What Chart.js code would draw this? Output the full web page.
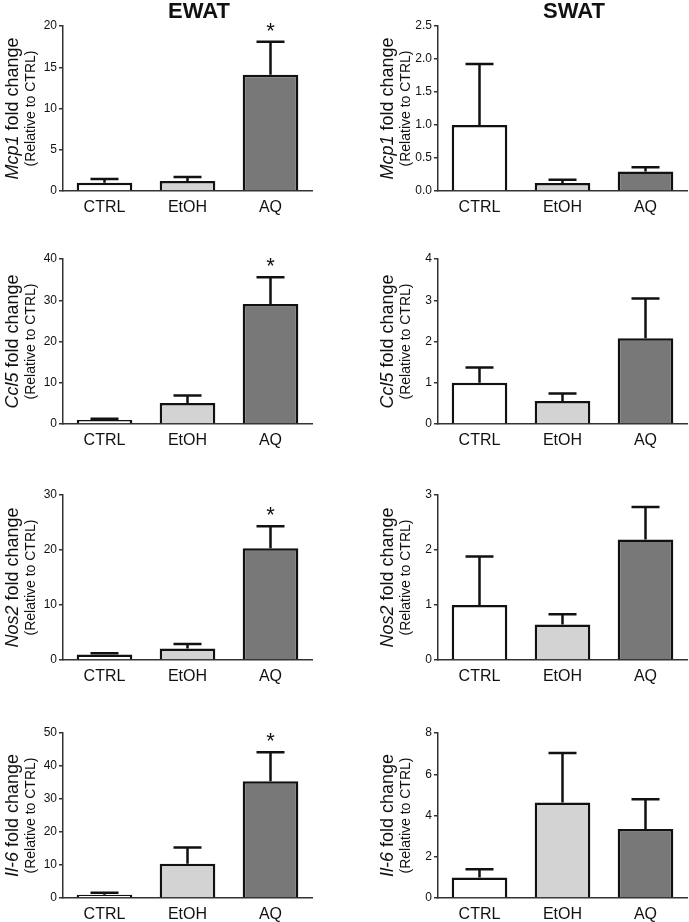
<!DOCTYPE html>
<html>
<head>
<meta charset="utf-8">
<script src="https://cdn.jsdelivr.net/npm/chart.js@4/dist/chart.umd.min.js"></script>
<style>
  body { margin: 0; background: #fff; }
  #wrap { position: relative; width: 689px; height: 922px; overflow: hidden; }
  #wrap canvas { position: absolute; }
  .ttl {
    position: absolute; top: 0; z-index: 2;
    font: bold 22px "Liberation Sans", Arial, sans-serif; line-height: 22px;
    color: #111; transform: translateX(-50%);
  }
</style>
</head>
<body>
<div id="wrap">
  <div class="ttl" style="left:199px">EWAT</div>
  <div class="ttl" style="left:574px">SWAT</div>
</div>
<script>
var FONT = '"Liberation Sans", Arial, sans-serif';

var groups = ["CTRL", "EtOH", "AQ"];
var barColors = ["#ffffff", "#d3d3d3", "#787878"];

// mean fold change and SEM
var ewatMcp1 = [1.0, 1.2, 14.1];
var ewatMcp1Sem = [0.45, 0.5, 4.0];
var swatMcp1 = [1.0, 0.12, 0.295];
var swatMcp1Sem = [0.925, 0.05, 0.065];

var ewatCcl5 = [1.0, 5.1, 29.1];
var ewatCcl5Sem = [0.25, 1.8, 6.5];
var swatCcl5 = [1.0, 0.56, 2.08];
var swatCcl5Sem = [0.37, 0.18, 0.96];

var ewatNos2 = [1.0, 2.1, 20.3];
var ewatNos2Sem = [0.25, 0.8, 4.0];
var swatNos2 = [1.0, 0.645, 2.19];
var swatNos2Sem = [0.88, 0.185, 0.59];

var ewatIl6 = [1.0, 10.4, 35.4];
var ewatIl6Sem = [0.6, 4.9, 8.8];
var swatIl6 = [1.0, 4.63, 3.34];
var swatIl6Sem = [0.4, 2.4, 1.45];

// significance marks (*) per group
var ewatSig = [false, false, true];
var swatSig = [false, false, false];

// y axis max / step
var ewatMax = [20, 40, 30, 50];
var ewatStep = [5, 10, 10, 10];
var swatMax = [2.5, 4, 3, 8];
var swatStep = [0.5, 1, 1, 2];

var genes = ["Mcp1", "Ccl5", "Nos2", "Il-6"];

var rowTops = [2, 235, 471, 709];

var errorBarPlugin = {
  id: "errorBars",
  afterDatasetsDraw: function (chart) {
    var o = chart.options.plugins.errorBars;
    var meta = chart.getDatasetMeta(0);
    var ys = chart.scales.y;
    var ctx = chart.ctx;
    ctx.save();
    ctx.strokeStyle = "#111";
    ctx.fillStyle = "#111";
    ctx.lineWidth = 2.5;
    meta.data.forEach(function (bar, i) {
      var yTop = ys.getPixelForValue(o.mean[i] + o.sem[i]);
      ctx.beginPath();
      ctx.moveTo(bar.x, bar.y);
      ctx.lineTo(bar.x, yTop);
      ctx.moveTo(bar.x - 14, yTop);
      ctx.lineTo(bar.x + 14, yTop);
      ctx.stroke();
      if (o.sig[i]) {
        ctx.font = "22px " + FONT;
        ctx.textAlign = "center";
        ctx.textBaseline = "middle";
        ctx.fillText("*", bar.x, yTop - 10);
      }
    });
    ctx.restore();
  }
};

var axisTitlePlugin = {
  id: "axisTitle",
  afterDraw: function (chart) {
    var gene = chart.options.plugins.axisTitle.gene;
    var ctx = chart.ctx;
    var a = chart.chartArea;
    var cy = (a.top + a.bottom) / 2;
    var rest = " fold change";

    ctx.save();
    ctx.fillStyle = "#111";
    ctx.textBaseline = "middle";
    ctx.textAlign = "left";
    ctx.translate(a.left - 50, cy);
    ctx.rotate(-Math.PI / 2);
    ctx.font = "italic 18px " + FONT;
    var w1 = ctx.measureText(gene).width;
    ctx.font = "18px " + FONT;
    var w2 = ctx.measureText(rest).width;
    var x0 = -(w1 + w2) / 2;
    ctx.font = "italic 18px " + FONT;
    ctx.fillText(gene, x0, 0);
    ctx.font = "18px " + FONT;
    ctx.fillText(rest, x0 + w1, 0);
    ctx.restore();

    ctx.save();
    ctx.fillStyle = "#111";
    ctx.textBaseline = "middle";
    ctx.textAlign = "center";
    ctx.translate(a.left - 32, cy);
    ctx.rotate(-Math.PI / 2);
    ctx.font = "14px " + FONT;
    ctx.fillText("(Relative to CTRL)", 0, 0);
    ctx.restore();
  }
};

function makePanel(col, row, gene, mean, sem, sig, max, step) {
  var canvas = document.createElement("canvas");
  var left = col === 0 ? 0 : 345;
  var width = col === 0 ? 330 : 344;
  var height = 217;
  canvas.width = width;
  canvas.height = height;
  canvas.style.left = left + "px";
  canvas.style.top = rowTops[row] + "px";
  document.getElementById("wrap").appendChild(canvas);

  var yWidth = col === 0 ? 63 : 93;
  var decimals = step < 1 ? 1 : 0;

  new Chart(canvas.getContext("2d"), {
    type: "bar",
    data: {
      labels: groups,
      datasets: [{
        data: mean,
        backgroundColor: barColors,
        borderColor: "#111",
        borderWidth: 2.5,
        barPercentage: 0.67,
        categoryPercentage: 1.0
      }]
    },
    options: {
      responsive: false,
      animation: false,
      layout: { padding: { top: 24, right: col === 0 ? 18 : 2, left: 0, bottom: 0 } },
      plugins: {
        legend: { display: false },
        tooltip: { enabled: false },
        errorBars: { mean: mean, sem: sem, sig: sig },
        axisTitle: { gene: gene }
      },
      scales: {
        x: {
          grid: { display: false, drawTicks: false, tickLength: 0 },
          border: { display: true, color: "#333", width: 1.5 },
          ticks: { color: "#111", font: { family: FONT, size: 16 }, padding: 7 },
          afterFit: function (scale) { scale.height = 28; }
        },
        y: {
          min: 0,
          max: max,
          grid: { display: true, drawOnChartArea: false, drawTicks: true, tickLength: 4, color: "#333", lineWidth: 1.5 },
          border: { display: true, color: "#333", width: 1.5 },
          ticks: {
            stepSize: step,
            color: "#111",
            padding: 2,
            font: { family: FONT, size: 12 },
            callback: function (v) { return Number(v).toFixed(decimals); }
          },
          afterFit: function (scale) { scale.width = yWidth; }
        }
      }
    },
    plugins: [errorBarPlugin, axisTitlePlugin]
  });
}

makePanel(0, 0, genes[0], ewatMcp1, ewatMcp1Sem, ewatSig, ewatMax[0], ewatStep[0]);
makePanel(1, 0, genes[0], swatMcp1, swatMcp1Sem, swatSig, swatMax[0], swatStep[0]);
makePanel(0, 1, genes[1], ewatCcl5, ewatCcl5Sem, ewatSig, ewatMax[1], ewatStep[1]);
makePanel(1, 1, genes[1], swatCcl5, swatCcl5Sem, swatSig, swatMax[1], swatStep[1]);
makePanel(0, 2, genes[2], ewatNos2, ewatNos2Sem, ewatSig, ewatMax[2], ewatStep[2]);
makePanel(1, 2, genes[2], swatNos2, swatNos2Sem, swatSig, swatMax[2], swatStep[2]);
makePanel(0, 3, genes[3], ewatIl6, ewatIl6Sem, ewatSig, ewatMax[3], ewatStep[3]);
makePanel(1, 3, genes[3], swatIl6, swatIl6Sem, swatSig, swatMax[3], swatStep[3]);
</script>
</body>
</html>
